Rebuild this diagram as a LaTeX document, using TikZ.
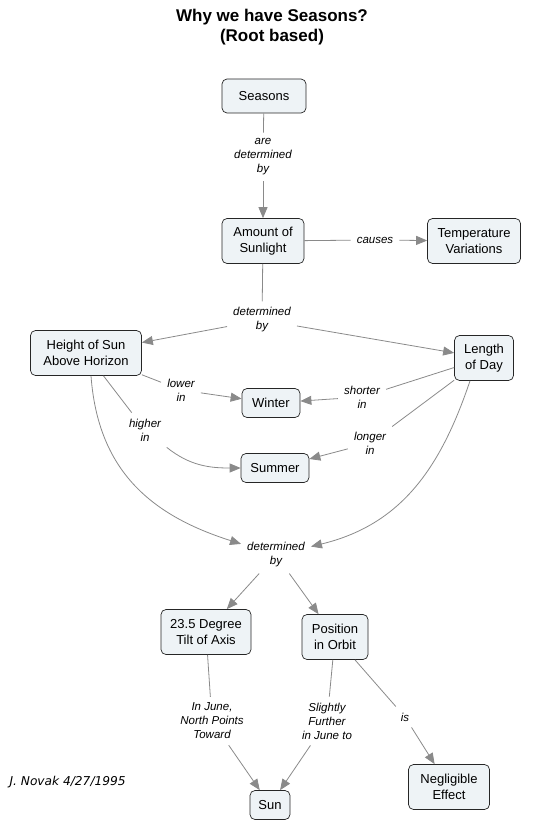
\documentclass[tikz,border=0pt]{standalone}
\usepackage{fontspec}
\setmainfont{Liberation Sans}
\newfontfamily\novakfont{DejaVu Sans}
\usetikzlibrary{arrows.meta}
\definecolor{boxfill}{HTML}{EEF3F6}
\definecolor{linkgray}{HTML}{8A8A8A}
\tikzset{
  concept/.style={draw=black!85, fill=boxfill, rounded corners=5pt, line width=0.7pt,
    align=center, inner sep=0pt, font=\fontsize{13}{16}\selectfont},
  linkword/.style={align=center, inner sep=6pt, font=\fontsize{11.5}{14}\selectfont\itshape},
  plain/.style={draw=linkgray, line width=0.8pt},
  arrowed/.style={plain, -{Triangle[length=11pt,width=9pt]}},
}
\begin{document}
\begin{tikzpicture}[x=1pt,y=-1pt]
\useasboundingbox (0,0) rectangle (544,821);
% title
\node (title) at (272,27) [align=center, font=\fontsize{17}{20}\selectfont\bfseries] {Why we have Seasons?\\(Root based)};
% concepts
\node[concept, minimum width=84, minimum height=34] (seasons) at (264,96) {Seasons};
\node[concept, minimum width=82, minimum height=45] (amount) at (263,241) {Amount of\\Sunlight};
\node[concept, minimum width=93, minimum height=45] (temp) at (474,241) {Temperature\\Variations};
\node[concept, minimum width=111, minimum height=45] (height) at (86,353) {Height of Sun\\Above Horizon};
\node[concept, minimum width=59, minimum height=45] (length) at (484,358) {Length\\of Day};
\node[concept, minimum width=58, minimum height=29] (winter) at (271,403) {Winter};
\node[concept, minimum width=68, minimum height=29] (summer) at (275,468) {Summer};
\node[concept, minimum width=90, minimum height=45] (tilt) at (206,632) {23.5 Degree\\Tilt of Axis};
\node[concept, minimum width=66, minimum height=45] (position) at (335,637) {Position\\in Orbit};
\node[concept, minimum width=81, minimum height=45] (negl) at (449,787) {Negligible\\Effect};
\node[concept, minimum width=40, minimum height=29] (sun) at (270,805) {Sun};
% linking words
\node[linkword] (aredet) at (263,157) {are\\determined\\by};
\node[linkword] (causes) at (375,240) {causes};
\node[linkword] (det1) at (262,320) {determined\\by};
\node[linkword] (lower) at (181,390) {lower\\in};
\node[linkword] (shorter) at (362,397) {shorter\\in};
\node[linkword] (higher) at (145,430) {higher\\in};
\node[linkword] (longer) at (370,443) {longer\\in};
\node[linkword] (det2) at (276,555) {determined\\by};
\node[linkword] (june) at (212,721) {In June,\\North Points\\Toward};
\node[linkword] (further) at (327,721) {Slightly\\Further\\in June to};
\node[linkword] (is) at (405,717) {is};
\node[anchor=west, font=\fontsize{12.2}{14}\selectfont\novakfont\itshape] (novak) at (6,782) {J. Novak 4/27/1995};
% connectors
\draw[plain] (seasons) -- (aredet);
\draw[arrowed] (aredet) -- (amount);
\draw[plain] (amount) -- (causes);
\draw[arrowed] (causes) -- (temp);
\draw[plain] (amount) -- (det1);
\draw[arrowed] (det1) -- (height);
\draw[arrowed] (det1) -- (length);
\draw[plain] (height) -- (lower);
\draw[arrowed] (lower) -- (winter);
\draw[plain] (length) -- (shorter);
\draw[arrowed] (shorter) -- (winter);
\draw[plain] (height) -- (higher);
\draw[arrowed] (higher) .. controls (190,466) and (210,468) .. (summer);
\draw[plain] (length) -- (longer);
\draw[arrowed] (longer) -- (summer);
\draw[arrowed] ([xshift=5pt]height.south) .. controls (98,470) and (150,515) .. (det2);
\draw[arrowed] ([xshift=-14pt]length.south) .. controls (440,470) and (400,525) .. (det2);
\draw[arrowed] (det2) -- (tilt);
\draw[arrowed] (det2) -- (position);
\draw[plain] (tilt) -- (june);
\draw[arrowed] (june) -- (sun);
\draw[plain] (position) -- (further);
\draw[arrowed] (further) -- (sun);
\draw[plain] (position) -- (is);
\draw[arrowed] (is) -- (negl);
\end{tikzpicture}
\end{document}
